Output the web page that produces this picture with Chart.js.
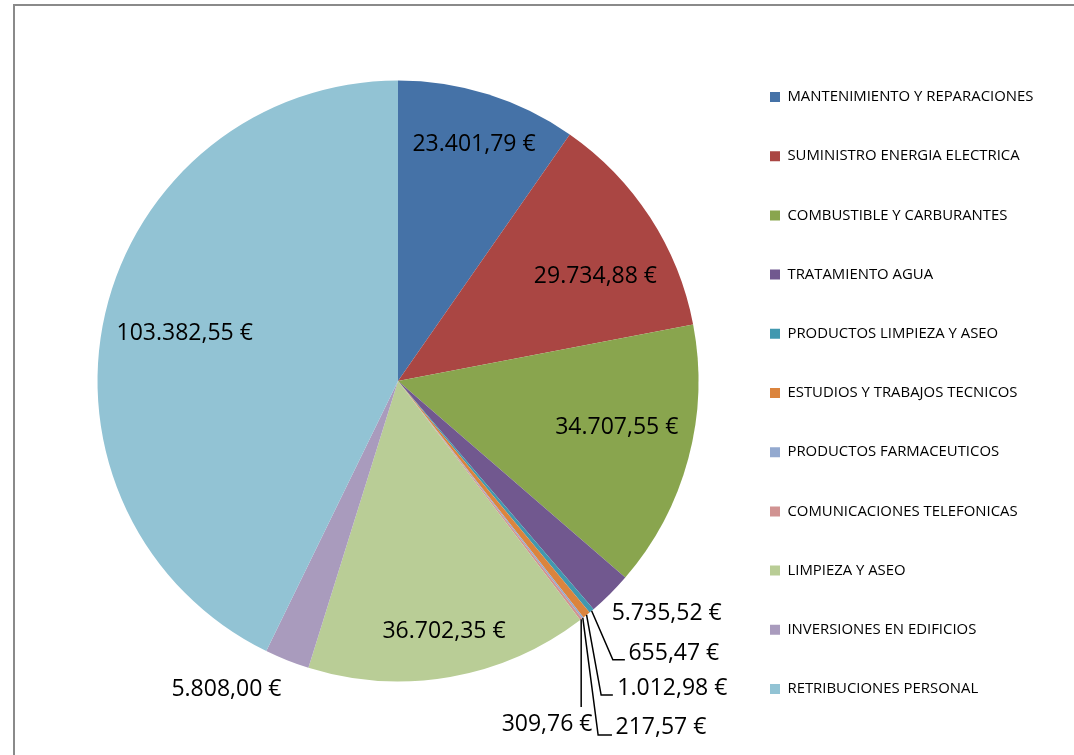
<!DOCTYPE html>
<html><head><meta charset="utf-8">
<script src="https://cdn.jsdelivr.net/npm/chart.js@4/dist/chart.umd.min.js"></script>
<style>
html,body{margin:0;padding:0;background:#fff;overflow:hidden;width:1074px;height:755px;}
#frame{position:absolute;left:13px;top:4px;width:1200px;height:900px;border:2px solid #8a8a8a;box-sizing:border-box;}
#wrap{position:absolute;left:0;top:0;width:1074px;height:755px;}
</style></head><body>
<div id="frame"></div>
<div id="wrap"><canvas id="c" width="1074" height="755"></canvas></div>
<script>
// ---- data ----
const categories = [
  'MANTENIMIENTO Y REPARACIONES',
  'SUMINISTRO ENERGIA ELECTRICA',
  'COMBUSTIBLE Y CARBURANTES',
  'TRATAMIENTO AGUA',
  'PRODUCTOS LIMPIEZA Y ASEO',
  'ESTUDIOS Y TRABAJOS TECNICOS',
  'PRODUCTOS FARMACEUTICOS',
  'COMUNICACIONES TELEFONICAS',
  'LIMPIEZA Y ASEO',
  'INVERSIONES EN EDIFICIOS',
  'RETRIBUCIONES PERSONAL'
];
const values = [23401.79, 29734.88, 34707.55, 5735.52, 655.47, 1012.98, 217.57, 309.76, 36702.35, 5808.00, 103382.55];
const colors = ['#4572A7','#AA4643','#89A54E','#71588F','#4198AF','#DB843D','#93A9CF','#D19392','#B9CD96','#A99BBD','#92C3D4'];

// ---- label layout (offsets from pie centre, in units of radius) ----
const labelPos = [
  [0.253,-0.792],[0.657,-0.353],[0.728,0.150],[0.894,0.769],
  [0.918,0.902],[0.913,1.018],[0.875,1.148],[0.496,1.138],
  [0.153,0.829],[-0.571,1.022],[-0.710,-0.164]
];
// leader: [elbowX (null = straight down), elbowY, endX (null = none)]
const leaders = [null,null,null,null,
  [0.715,0.928,0.755],[0.676,1.045,0.715],[0.666,1.178,0.712],[null,1.085,null],
  null,null,null];

function formatEuro(v){
  const parts = v.toFixed(2).split('.');
  const intPart = parts[0].replace(/\B(?=(\d{3})+(?!\d))/g,'.');
  return intPart + ',' + parts[1] + ' €';
}

const FONT = '"Open Sans", sans-serif';
const legendFontSize = 14.9;
const rowSpacing = 59.2;
const legendPad = rowSpacing - legendFontSize;
const boxX = 770;
const legendLeft = boxX - legendPad;
const pieCx = 398;
const padLeft = 2*pieCx - legendLeft;

const mctx = document.createElement('canvas').getContext('2d');
mctx.font = legendFontSize + 'px ' + FONT;
const maxW = Math.max(...categories.map(c => mctx.measureText(c).width));
const legendW = legendPad + 10 + legendFontSize/2 + maxW + 10;
const padRight = Math.max(0, 1074 - legendLeft - legendW);

const labelPlugin = {
  id: 'sliceLabels',
  afterDatasetsDraw(chart){
    const ctx = chart.ctx;
    const meta = chart.getDatasetMeta(0);
    ctx.save();
    const fs = 23;
    ctx.font = fs + 'px ' + FONT;
    ctx.fillStyle = '#000';
    ctx.strokeStyle = '#000';
    ctx.lineWidth = 1.5;
    ctx.textAlign = 'center';
    ctx.textBaseline = 'alphabetic';
    meta.data.forEach((arc, i) => {
      const p = arc.getProps(['x','y','outerRadius','startAngle','endAngle'], true);
      const R = p.outerRadius;
      const lp = labelPos[i];
      ctx.fillText(formatEuro(values[i]), p.x + lp[0]*R, p.y + lp[1]*R + 0.357*fs);
      const L = leaders[i];
      if (L) {
        const mid = (p.startAngle + p.endAngle)/2;
        const sx = p.x + R*Math.cos(mid), sy = p.y + R*Math.sin(mid);
        const ex = L[0] === null ? sx : p.x + L[0]*R;
        const ey = p.y + L[1]*R;
        ctx.beginPath();
        ctx.moveTo(sx, sy);
        ctx.lineTo(ex, ey);
        if (L[2] !== null) ctx.lineTo(p.x + L[2]*R, ey);
        ctx.stroke();
      }
    });
    ctx.restore();
  }
};

new Chart(document.getElementById('c'), {
  type: 'pie',
  data: {
    labels: categories,
    datasets: [{
      data: values,
      backgroundColor: colors,
      borderWidth: 0,
      radius: 300.5
    }]
  },
  options: {
    responsive: false,
    devicePixelRatio: 1,
    animation: false,
    layout: { padding: { left: padLeft, right: padRight, top: 7, bottom: 0 } },
    plugins: {
      tooltip: { enabled: false },
      legend: {
        position: 'right',
        align: 'center',
        title: { display: true, text: '', padding: 0, font: { size: 10, lineHeight: 2.4 } },
        labels: {
          boxWidth: 10,
          boxHeight: 10,
          padding: legendPad,
          color: '#000',
          font: { family: FONT, size: legendFontSize }
        }
      }
    }
  },
  plugins: [labelPlugin]
});
</script>
</body></html>
